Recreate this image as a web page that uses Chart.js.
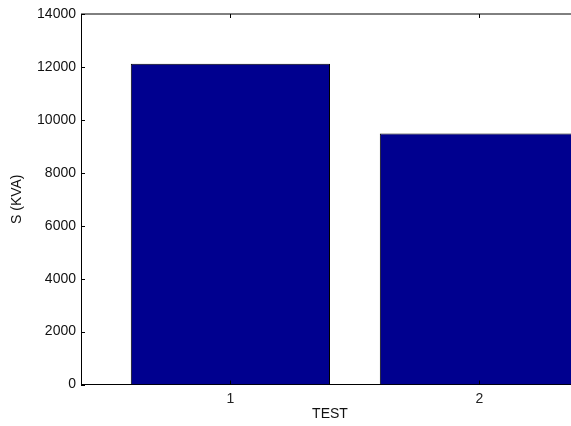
<!DOCTYPE html>
<html>
<head>
<meta charset="utf-8">
<script src="https://cdn.jsdelivr.net/npm/chart.js"></script>
<style>
  html, body { margin: 0; padding: 0; background: #fff; overflow: hidden; width: 571px; height: 426px; }
  #wrap { width: 590px; height: 426px; }
</style>
</head>
<body>
<div id="wrap"><canvas id="barChart" width="590" height="426"></canvas></div>
<script>
const categories = [1, 2];
const sValues = [12120, 9480];
const yTicks = [0, 2000, 4000, 6000, 8000, 10000, 12000, 14000];

// matlab style frame: top line and inward ticks
const framePlugin = {
  id: 'frame',
  afterDraw(chart) {
    const { ctx, chartArea: a, scales } = chart;
    ctx.save();
    ctx.strokeStyle = '#000';
    ctx.lineWidth = 1;
    ctx.beginPath();
    ctx.moveTo(a.left, a.top);
    ctx.lineTo(a.right, a.top);
    yTicks.forEach(v => {
      const y = Math.round(scales.y.getPixelForValue(v)) + 0.5;
      ctx.moveTo(a.left, y);
      ctx.lineTo(a.left + 4, y);
    });
    categories.forEach(c => {
      const x = Math.round(scales.x.getPixelForValue(c)) + 0.5;
      ctx.moveTo(x, a.top);
      ctx.lineTo(x, a.top + 4);
      ctx.moveTo(x, a.bottom);
      ctx.lineTo(x, a.bottom - 4);
    });
    ctx.stroke();
    ctx.restore();
  }
};

const font = { family: 'Liberation Sans, Arial, sans-serif', size: 14 };

new Chart(document.getElementById('barChart'), {
  type: 'bar',
  data: {
    datasets: [{
      label: 'S (KVA)',
      data: categories.map((c, i) => ({ x: c, y: sValues[i] })),
      backgroundColor: '#00008F',
      borderColor: '#000',
      borderWidth: 1,
      barPercentage: 0.8,
      categoryPercentage: 1.0
    }]
  },
  options: {
    responsive: false,
    animation: false,
    layout: { padding: { top: 14, right: 11, left: 0, bottom: 0 } },
    plugins: {
      legend: { display: false },
      tooltip: { enabled: false }
    },
    scales: {
      x: {
        type: 'linear',
        offset: false,
        min: 0.4,
        max: 2.4,
        afterBuildTicks: s => { s.ticks = categories.map(v => ({ value: v })); },
        afterFit: s => { s.height = 41.5; },
        grid: { display: false, drawTicks: false },
        border: { display: true, color: '#000', width: 1 },
        ticks: { color: '#222', font, padding: 6, maxRotation: 0, callback: v => String(v) },
        title: { display: true, text: 'TEST', color: '#111', font, padding: { top: 0, bottom: 3 } }
      },
      y: {
        min: 0,
        max: 14000,
        afterBuildTicks: s => { s.ticks = yTicks.map(v => ({ value: v })); },
        afterFit: s => { s.width = 81; },
        grid: { display: false, drawTicks: false },
        border: { display: true, color: '#000', width: 1 },
        ticks: { color: '#111', font, padding: 5, callback: v => String(v) },
        title: { display: true, text: 'S (KVA)', color: '#111', font, padding: { top: 9, bottom: 0 } }
      }
    }
  },
  plugins: [framePlugin]
});
</script>
</body>
</html>
